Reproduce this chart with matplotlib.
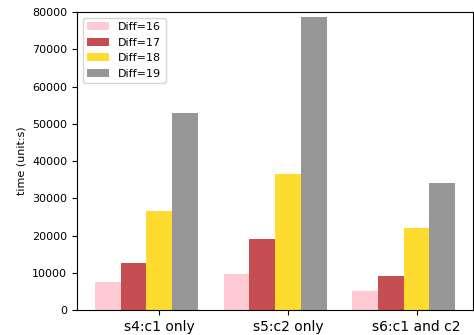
import matplotlib
matplotlib.use("Agg")
import matplotlib.pyplot as plt
import numpy as np

categories = ["s4:c1 only", "s5:c2 only", "s6:c1 and c2"]
series_names = ["Diff=16", "Diff=17", "Diff=18", "Diff=19"]
diff16 = [7500, 9700, 5100]
diff17 = [12600, 19000, 9100]
diff18 = [26600, 36400, 22100]
diff19 = [53000, 78600, 34100]
colors = ["#FFCAD4", "#C44E52", "#FDDC2F", "#979797"]

fig = plt.figure(figsize=(4.74, 3.35), dpi=100)
ax = fig.add_axes([0.1624, 0.0746, 0.836, 0.8894])

x = np.arange(len(categories))
w = 0.2
for i, (vals, name, c) in enumerate(zip([diff16, diff17, diff18, diff19], series_names, colors)):
    ax.bar(x + (i - 2) * w, vals, width=w, color=c, label=name)

ax.set_xticks(x)
ax.set_xticklabels(categories, fontsize=10)
ax.tick_params(axis="y", labelsize=8)
ax.set_ylim(0, 80000)
ax.set_ylabel("time (unit:s)", fontsize=8)
ax.legend(loc="upper left", fontsize=8)

fig.savefig("out.png", dpi=100)
